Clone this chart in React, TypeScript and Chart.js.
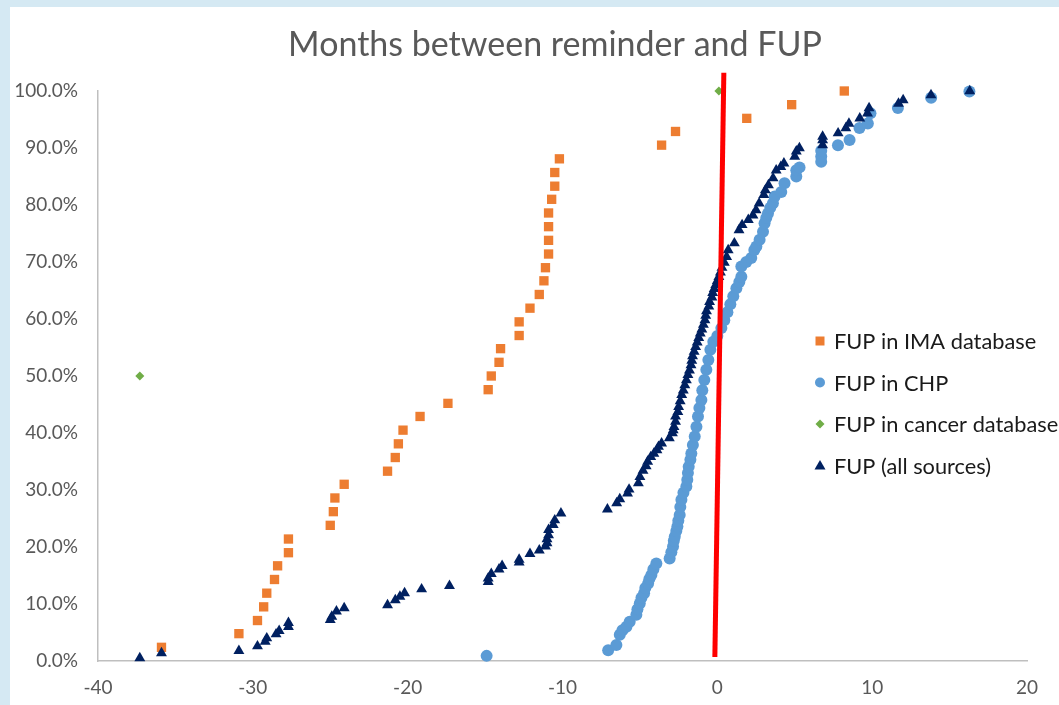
import React, { useEffect, useRef } from "react";
import { Chart, registerables } from "chart.js";

Chart.register(...registerables);

const TITLE = "Months between reminder and FUP";
const X_TICKS = [-40, -30, -20, -10, 0, 10, 20];
const Y_TICKS = [0, 10, 20, 30, 40, 50, 60, 70, 80, 90, 100];

// FUP in IMA database (months, cumulative %)
const imaX = [
  -35.9, -30.9, -29.7, -29.3, -29.1, -28.6, -28.4, -27.7, -27.7,
  -25.0, -24.8, -24.7, -24.1,
  -21.3, -20.8, -20.6, -20.3, -19.2, -17.4, -14.8, -14.6, -14.1, -14.0,
  -12.8, -12.8, -12.1, -11.5, -11.2, -11.1, -10.9, -10.9, -10.9, -10.9, -10.7, -10.5, -10.5, -10.2,
  -3.6, -2.7, 1.9, 4.8, 8.2,
];
const imaY = [
  2.4, 4.8, 7.1, 9.5, 11.9, 14.3, 16.7, 19.0, 21.4,
  23.8, 26.2, 28.6, 31.0,
  33.3, 35.7, 38.1, 40.5, 42.9, 45.2, 47.6, 50.0, 52.4, 54.8,
  57.1, 59.5, 61.9, 64.3, 66.7, 69.0, 71.4, 73.8, 76.2, 78.6, 81.0, 83.3, 85.7, 88.1,
  90.5, 92.9, 95.2, 97.6, 100.0,
];

// FUP in CHP
const chpX = [
  -14.9, -7.05, -6.52, -6.3, -6.13, -5.87, -5.66, -5.23, -5.16, -5.01,
  -4.9, -4.73, -4.65, -4.47, -4.39, -4.26, -4.13, -3.94, -3.08, -2.97,
  -2.86, -2.81, -2.75, -2.65, -2.58, -2.52, -2.43, -2.39, -2.32, -2.19,
  -2.0, -1.94, -1.9, -1.85, -1.74, -1.68, -1.58, -1.46, -1.35, -1.25,
  -1.16, -1.03, -0.97, -0.84, -0.71, -0.58, -0.45, -0.26, 0.0, 0.26,
  0.45, 0.65, 0.84, 1.03, 1.23, 1.42, 1.55, 1.55, 1.87, 2.19,
  2.39, 2.52, 2.73, 2.95, 3.05, 3.16, 3.27, 3.42, 3.59, 3.7,
  4.13, 4.34, 5.1, 5.1, 5.31, 6.71, 6.71, 6.71, 7.79, 8.54,
  9.18, 9.72, 9.89, 11.66, 13.81, 16.28,
];
const chpY = [
  0.9, 1.9, 2.8, 4.6, 5.4, 6.0, 6.9, 8.1, 9.1, 10.1,
  11.1, 11.9, 12.8, 13.6, 14.4, 15.1, 16.1, 17.1, 18.0, 19.1,
  20.1, 21.1, 21.8, 22.8, 23.6, 24.6, 25.6, 27.0, 28.3, 29.5,
  30.6, 31.8, 33.0, 34.1, 35.3, 36.4, 37.9, 39.4, 41.1, 42.9,
  44.4, 45.8, 47.5, 49.3, 51.1, 52.8, 54.6, 56.0, 57.0, 58.4,
  59.8, 61.2, 62.6, 64.0, 65.4, 66.5, 67.4, 69.2, 70.0, 70.7,
  72.1, 72.7, 73.9, 75.3, 76.8, 77.7, 78.5, 79.5, 80.3, 81.5,
  82.3, 83.8, 85.0, 86.1, 86.6, 87.6, 88.5, 89.5, 90.5, 91.4,
  93.5, 94.3, 96.1, 97.0, 98.8, 99.9,
];

// FUP in cancer database
const cancerX = [-37.3, 0.1];
const cancerY = [50.0, 100.0];

// FUP (all sources)
const allX = [
  -37.3, -35.9, -30.9, -29.7, -29.2, -29.1, -28.5, -28.3, -27.7, -27.7,
  -25.0, -24.9, -24.6, -24.1, -21.3, -20.8, -20.5, -20.2, -19.1, -17.3,
  -14.8, -14.8, -14.6, -14.1, -13.9, -12.8, -12.8, -12.1, -11.5, -11.1,
  -11.0, -11.0, -10.9, -10.9, -10.6, -10.5, -10.1, -7.1, -6.5, -6.3,
  -5.8, -5.7, -5.1, -5.0, -4.8, -4.6, -4.5, -4.3, -4.1, -3.9,
  -3.8, -3.6, -3.1, -2.9, -2.85, -2.8, -2.7, -2.7, -2.55, -2.5,
  -2.4, -2.3, -2.2, -2.1, -2.0, -1.9, -1.8, -1.7, -1.65, -1.6,
  -1.5, -1.4, -1.3, -1.2, -1.1, -1.0, -0.9, -0.8, -0.75, -0.7,
  -0.55, -0.5, -0.35, -0.3, -0.2, -0.1, 0.0, 0.1, 0.2, 0.3,
  0.45, 0.6, 0.7, 1.1, 1.4, 1.6, 2.0, 2.3, 2.5, 2.7,
  3.0, 3.1, 3.3, 3.6, 3.8, 4.1, 4.3, 5.0, 5.1, 5.3,
  6.8, 6.8, 6.8, 7.8, 8.3, 8.5, 9.2, 9.7, 9.8, 11.7,
  12.0, 13.8, 16.3,
];
const allY = [
  0.5, 1.4, 1.8, 2.6, 3.4, 4.0, 4.7, 5.3, 6.0, 6.7,
  7.2, 7.8, 8.7, 9.3, 9.8, 10.7, 11.3, 11.9, 12.6, 13.2,
  13.9, 14.5, 15.3, 16.1, 16.7, 17.3, 17.8, 18.8, 19.4, 20.1,
  20.7, 21.4, 22.1, 23.0, 23.9, 24.7, 25.9, 26.6, 27.7, 28.4,
  29.4, 30.1, 31.2, 32.3, 33.4, 34.2, 35.0, 35.8, 36.4, 37.0,
  37.6, 38.2, 39.1, 40.0, 40.5, 41.1, 42.0, 42.9, 43.7, 44.6,
  45.6, 46.7, 47.5, 48.4, 49.3, 50.2, 51.0, 51.9, 52.7, 53.5,
  54.3, 55.1, 55.9, 56.7, 57.5, 58.2, 59.0, 59.8, 60.6, 61.4,
  62.2, 63.0, 63.8, 64.6, 65.3, 66.0, 66.7, 67.4, 68.2, 69.0,
  69.9, 70.9, 72.1, 73.3, 75.6, 76.5, 77.4, 78.2, 79.1, 80.3,
  81.8, 82.6, 83.5, 84.7, 86.1, 86.7, 87.3, 88.5, 89.4, 90.0,
  90.5, 91.4, 92.0, 92.6, 93.5, 94.3, 95.2, 96.1, 97.0, 97.8,
  98.4, 99.3, 100.0,
];

// Red reference line (drawn over the plot)
const refLineX = [0.42, -0.16];
const refLineY = [103.2, 0.7];

const LEGEND_LABELS = [
  "FUP in IMA database",
  "FUP in CHP",
  "FUP in cancer database",
  "FUP (all sources)",
];

const C_IMA = "#ED7D31";
const C_CHP = "#5B9BD5";
const C_CANCER = "#70AD47";
const C_ALL = "#002060";
const FONT = "Lato, 'Open Sans', sans-serif";

const toPts = (xs: number[], ys: number[]) => xs.map((x, i) => ({ x, y: ys[i] }));

const overlayPlugin = {
  id: "overlay",
  afterDraw(chart: any) {
    const ctx = chart.ctx as CanvasRenderingContext2D;
    ctx.save();
    ctx.fillStyle = "#595959";
    ctx.font = `34px ${FONT}`;
    ctx.textAlign = "center";
    ctx.textBaseline = "middle";
    ctx.fillText(TITLE, 555, 45);

    const colors = [C_IMA, C_CHP, C_CANCER, C_ALL];
    const shapes = ["square", "circle", "diamond", "triangle"];
    const mx = 820;
    const tx = 834;
    const y0 = 341;
    const step = 41.5;
    ctx.font = `21.8px ${FONT}`;
    ctx.textAlign = "left";
    LEGEND_LABELS.forEach((label, i) => {
      const y = y0 + i * step;
      ctx.fillStyle = colors[i];
      ctx.beginPath();
      const s = shapes[i];
      if (s === "square") {
        ctx.rect(mx - 4.5, y - 4.5, 9, 9);
      } else if (s === "circle") {
        ctx.arc(mx, y, 5, 0, Math.PI * 2);
      } else if (s === "diamond") {
        ctx.moveTo(mx, y - 4.5);
        ctx.lineTo(mx + 4.5, y);
        ctx.lineTo(mx, y + 4.5);
        ctx.lineTo(mx - 4.5, y);
        ctx.closePath();
      } else {
        ctx.moveTo(mx, y - 5.5);
        ctx.lineTo(mx + 5.5, y + 4);
        ctx.lineTo(mx - 5.5, y + 4);
        ctx.closePath();
      }
      ctx.fill();
      ctx.fillStyle = "#1a1a1a";
      ctx.fillText(label, tx, y + 1);
    });
    ctx.restore();
  },
};

export default function App() {
  const ref = useRef<HTMLCanvasElement | null>(null);

  useEffect(() => {
    if (!ref.current) return;
    const chart = new Chart(ref.current, {
      type: "scatter",
      data: {
        datasets: [
          {
            label: "reference",
            data: toPts(refLineX, refLineY),
            showLine: true,
            borderColor: "#FF0000",
            borderWidth: 5,
            pointRadius: 0,
            clip: false,
            order: 0,
          } as any,
          {
            label: LEGEND_LABELS[3],
            data: toPts(allX, allY),
            pointStyle: "triangle",
            pointRadius: 6.3,
            backgroundColor: C_ALL,
            borderColor: C_ALL,
            borderWidth: 0,
            clip: false,
            order: 1,
          },
          {
            label: LEGEND_LABELS[2],
            data: toPts(cancerX, cancerY),
            pointStyle: "rectRot",
            pointRadius: 4.5,
            backgroundColor: C_CANCER,
            borderColor: C_CANCER,
            borderWidth: 0,
            clip: false,
            order: 2,
          },
          {
            label: LEGEND_LABELS[1],
            data: toPts(chpX, chpY),
            pointStyle: "circle",
            pointRadius: 6,
            backgroundColor: C_CHP,
            borderColor: C_CHP,
            borderWidth: 0,
            clip: false,
            order: 3,
          },
          {
            label: LEGEND_LABELS[0],
            data: toPts(imaX, imaY),
            pointStyle: "rect",
            pointRadius: 6.6,
            backgroundColor: C_IMA,
            borderColor: C_IMA,
            borderWidth: 0,
            clip: false,
            order: 4,
          },
        ],
      },
      options: {
        animation: false,
        responsive: false,
        maintainAspectRatio: false,
        devicePixelRatio: 1,
        events: [],
        layout: { padding: { top: 91, right: 32, bottom: 0, left: 0 } },
        plugins: {
          legend: { display: false },
          title: { display: false },
          tooltip: { enabled: false },
        },
        scales: {
          x: {
            type: "linear",
            min: -40,
            max: 20,
            afterBuildTicks: (s: any) => {
              s.ticks = X_TICKS.map((v) => ({ value: v }));
            },
            afterFit: (s: any) => {
              s.height = 44;
            },
            grid: { display: false, drawTicks: false },
            border: { display: true, color: "#BFBFBF", width: 1.5 },
            ticks: {
              color: "#595959",
              font: { family: FONT, size: 19 },
              padding: 15,
              maxRotation: 0,
            },
          },
          y: {
            type: "linear",
            min: 0,
            max: 100,
            afterBuildTicks: (s: any) => {
              s.ticks = Y_TICKS.map((v) => ({ value: v }));
            },
            afterFit: (s: any) => {
              s.width = 98;
            },
            grid: { display: false, drawTicks: false },
            border: { display: true, color: "#BFBFBF", width: 1.5 },
            ticks: {
              color: "#595959",
              font: { family: FONT, size: 19 },
              padding: 20,
              callback: (v: any) => Number(v).toFixed(1) + "%",
            },
          },
        },
      },
      plugins: [overlayPlugin],
    });
    return () => chart.destroy();
  }, []);

  return (
    <div style={{ position: "relative", width: 1059, height: 705, overflow: "hidden" }}>
      <style>{"body{margin:0;background:#d5e9f3;}"}</style>
      <div
        style={{
          position: "absolute",
          left: 10,
          top: 7,
          right: 0,
          bottom: 0,
          background: "#ffffff",
        }}
      />
      <canvas
        ref={ref}
        width={1059}
        height={705}
        style={{ position: "absolute", left: 0, top: 0, width: 1059, height: 705, display: "block" }}
      />
    </div>
  );
}
